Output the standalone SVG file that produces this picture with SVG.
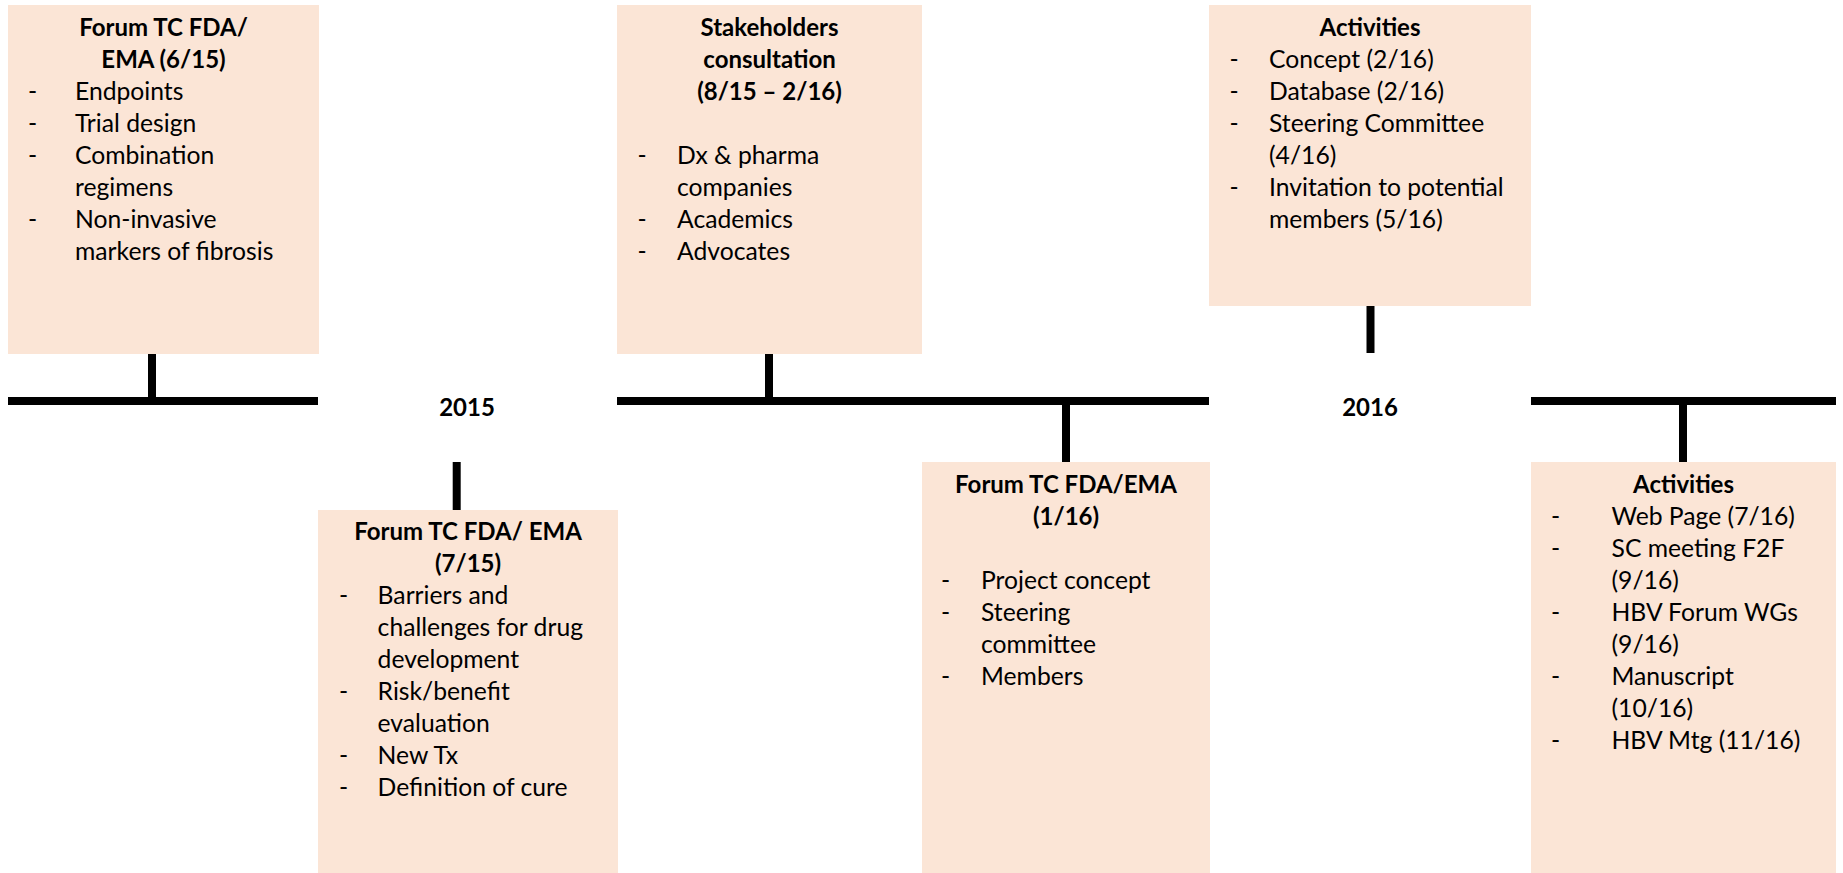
<svg xmlns="http://www.w3.org/2000/svg" width="1843" height="873" viewBox="0 0 1843 873">
<style>
.box{fill:#FBE5D6;}
.ln{stroke:#000;stroke-width:8;fill:none;}
text{font-family:Lato,"Open Sans","Liberation Sans",sans-serif;font-size:24.7px;fill:#000;}
.t{font-weight:bold;text-anchor:middle;font-size:24px;}
.yr{font-weight:bold;text-anchor:middle;font-size:24px;}
</style>
<rect width="1843" height="873" fill="#fff"/>
<g id="connectors">
<line class="ln" x1="8" y1="401" x2="318" y2="401"/>
<line class="ln" x1="617" y1="401" x2="1209" y2="401"/>
<line class="ln" x1="1531" y1="401" x2="1836" y2="401"/>
<line class="ln" x1="152" y1="354" x2="152" y2="405"/>
<line class="ln" x1="769" y1="354" x2="769" y2="405"/>
<line class="ln" x1="1066" y1="397" x2="1066" y2="462"/>
<line class="ln" x1="1683" y1="397" x2="1683" y2="462"/>
<line class="ln" x1="1370.5" y1="306" x2="1370.5" y2="353"/>
<line class="ln" x1="456.7" y1="462" x2="456.7" y2="510"/>
</g>
<g id="years">
<text class="yr" x="467" y="416">2015</text>
<text class="yr" x="1370" y="416">2016</text>
</g>
<g id="node-forum-615">
<rect class="box" x="8" y="5" width="311" height="349"/>
<text class="t" x="163.5" y="35.5">Forum TC FDA/</text>
<text class="t" x="163.5" y="67.5">EMA (6/15)</text>
<text x="28" y="99.5">-</text><text x="75" y="99.5">Endpoints</text>
<text x="28" y="131.5">-</text><text x="75" y="131.5">Trial design</text>
<text x="28" y="163.5">-</text><text x="75" y="163.5">Combination</text>
<text x="75" y="195.5">regimens</text>
<text x="28" y="227.5">-</text><text x="75" y="227.5">Non-invasive</text>
<text x="75" y="259.5">markers of fibrosis</text>
</g>
<g id="node-stakeholders">
<rect class="box" x="617" y="5" width="305" height="349"/>
<text class="t" x="769.5" y="35.5">Stakeholders</text>
<text class="t" x="769.5" y="67.5">consultation</text>
<text class="t" x="769.5" y="99.5">(8/15 – 2/16)</text>
<text x="637.5" y="163.5">-</text><text x="677" y="163.5">Dx &amp; pharma</text>
<text x="677" y="195.5">companies</text>
<text x="637.5" y="227.5">-</text><text x="677" y="227.5">Academics</text>
<text x="637.5" y="259.5">-</text><text x="677" y="259.5">Advocates</text>
</g>
<g id="node-activities-top">
<rect class="box" x="1209" y="5" width="322" height="301"/>
<text class="t" x="1370" y="35.5">Activities</text>
<text x="1229.5" y="67.5">-</text><text x="1269" y="67.5">Concept (2/16)</text>
<text x="1229.5" y="99.5">-</text><text x="1269" y="99.5">Database (2/16)</text>
<text x="1229.5" y="131.5">-</text><text x="1269" y="131.5">Steering Committee</text>
<text x="1269" y="163.5">(4/16)</text>
<text x="1229.5" y="195.5">-</text><text x="1269" y="195.5">Invitation to potential</text>
<text x="1269" y="227.5">members (5/16)</text>
</g>
<g id="node-forum-715">
<rect class="box" x="318" y="510" width="300" height="363"/>
<text class="t" x="468" y="540">Forum TC FDA/ EMA</text>
<text class="t" x="468" y="572">(7/15)</text>
<text x="339" y="604">-</text><text x="377.6" y="604">Barriers and</text>
<text x="377.6" y="636">challenges for drug</text>
<text x="377.6" y="668">development</text>
<text x="339" y="700">-</text><text x="377.6" y="700">Risk/benefit</text>
<text x="377.6" y="732">evaluation</text>
<text x="339" y="764">-</text><text x="377.6" y="764">New Tx</text>
<text x="339" y="796">-</text><text x="377.6" y="796">Definition of cure</text>
</g>
<g id="node-forum-116">
<rect class="box" x="922" y="462" width="288" height="411"/>
<text class="t" x="1066" y="493">Forum TC FDA/EMA</text>
<text class="t" x="1066" y="525">(1/16)</text>
<text x="941" y="589">-</text><text x="981" y="589">Project concept</text>
<text x="941" y="621">-</text><text x="981" y="621">Steering</text>
<text x="981" y="653">committee</text>
<text x="941" y="685">-</text><text x="981" y="685">Members</text>
</g>
<g id="node-activities-bottom">
<rect class="box" x="1531" y="462" width="305" height="411"/>
<text class="t" x="1683.5" y="493">Activities</text>
<text x="1551" y="525">-</text><text x="1611.5" y="525">Web Page (7/16)</text>
<text x="1551" y="557">-</text><text x="1611.5" y="557">SC meeting F2F</text>
<text x="1611.5" y="589">(9/16)</text>
<text x="1551" y="621">-</text><text x="1611.5" y="621">HBV Forum WGs</text>
<text x="1611.5" y="653">(9/16)</text>
<text x="1551" y="685">-</text><text x="1611.5" y="685">Manuscript</text>
<text x="1611.5" y="717">(10/16)</text>
<text x="1551" y="749">-</text><text x="1611.5" y="749">HBV Mtg (11/16)</text>
</g>
</svg>
